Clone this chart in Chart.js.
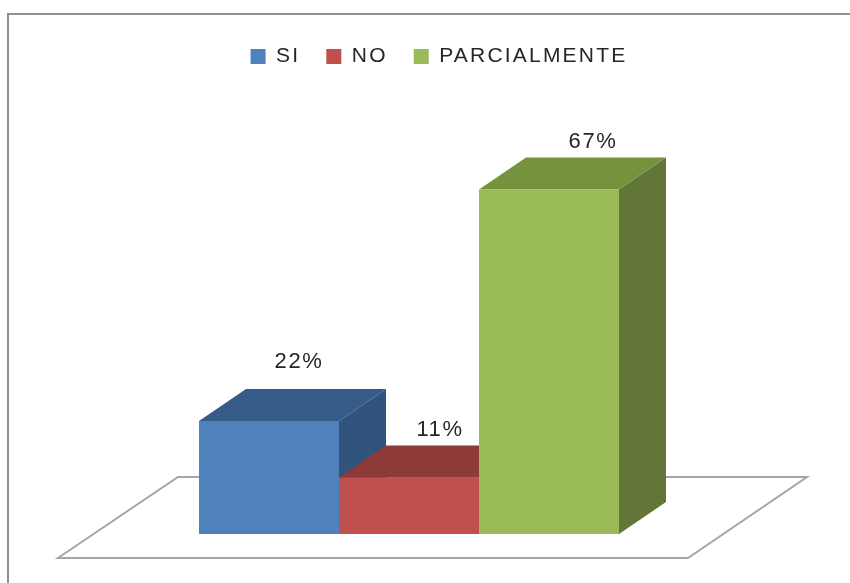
<!DOCTYPE html>
<html><head><meta charset="utf-8">
<script src="https://cdn.jsdelivr.net/npm/chart.js@4"></script>
<style>
html,body{margin:0;padding:0;background:#fff;width:850px;height:583px;overflow:hidden}
#frame{position:absolute;left:7px;top:13px;width:843px;height:570px;border-top:2px solid #8f8f8f;border-left:2px solid #8f8f8f;box-sizing:border-box}
#c{position:absolute;left:0;top:0;filter:blur(0.5px)}
</style></head><body>
<div id="frame"></div>
<canvas id="c" width="850" height="583"></canvas>
<script>
const categories = ['Respuesta'];
const seriesNames = ['SI', 'NO', 'PARCIALMENTE'];
const valuesSI = [22];
const valuesNO = [11];
const valuesPARCIALMENTE = [67];
const frontColors = ['#4F81BD', '#C0504D', '#9BBB59'];
const topColors = ['#365B88', '#8E3A38', '#76923C'];
const sideColors = ['#31547C', '#7A3230', '#62763A'];
const depth = { x: 47, y: 32 };
const labelShift = [[30, -59], [31, -48], [44, -48]];
const fontFamily = '"Liberation Sans", sans-serif';

const depthPlugin = {
  id: 'depth3d',
  beforeUpdate(chart) { chart.ctx.letterSpacing = '2.2px'; },
  beforeDatasetsDraw(chart) {
    const ctx = chart.ctx, base = chart.scales.y.getPixelForValue(0);
    ctx.save();
    ctx.strokeStyle = '#a3a5a8'; ctx.lineWidth = 2; ctx.fillStyle = '#fff';
    ctx.beginPath();
    ctx.moveTo(58, base + 24); ctx.lineTo(178, base - 57);
    ctx.lineTo(807, base - 57); ctx.lineTo(688, base + 24); ctx.closePath();
    ctx.fill(); ctx.stroke();
    chart.data.datasets.forEach((ds, i) => {
      const b = chart.getDatasetMeta(i).data[0];
      const l = b.x - b.width / 2, r = b.x + b.width / 2, t = b.y;
      ctx.fillStyle = sideColors[i];
      ctx.beginPath();
      ctx.moveTo(r, t); ctx.lineTo(r + depth.x, t - depth.y);
      ctx.lineTo(r + depth.x, base - depth.y); ctx.lineTo(r, base); ctx.closePath(); ctx.fill();
      ctx.fillStyle = topColors[i];
      ctx.beginPath();
      ctx.moveTo(l, t); ctx.lineTo(l + depth.x, t - depth.y);
      ctx.lineTo(r + depth.x, t - depth.y); ctx.lineTo(r, t); ctx.closePath(); ctx.fill();
    });
    ctx.restore();
  },
  afterDatasetsDraw(chart) {
    const ctx = chart.ctx;
    ctx.save();
    ctx.letterSpacing = '1.6px';
    ctx.font = '22px ' + fontFamily; ctx.fillStyle = '#262626';
    ctx.textAlign = 'center'; ctx.textBaseline = 'middle';
    chart.data.datasets.forEach((ds, i) => {
      const b = chart.getDatasetMeta(i).data[0];
      ctx.fillText(ds.data[0] + '%', b.x + labelShift[i][0], b.y + labelShift[i][1]);
    });
    ctx.restore();
  },
  afterLayout(chart) {
    chart.legend.left += 30; chart.legend.right += 30;
  }
};

new Chart(document.getElementById('c'), {
  type: 'bar',
  data: {
    labels: categories,
    datasets: [valuesSI, valuesNO, valuesPARCIALMENTE].map((d, i) => ({
      label: seriesNames[i], data: d, backgroundColor: frontColors[i], borderWidth: 0
    }))
  },
  options: {
    responsive: false, animation: false,
    layout: { padding: { left: 99, right: 131, top: 20, bottom: 49 } },
    scales: {
      x: { display: false, grid: { display: false } },
      y: { display: false, min: 0, max: 88.9, grid: { display: false } }
    },
    datasets: { bar: { barPercentage: 1, categoryPercentage: 420 / 620 } },
    plugins: {
      tooltip: { enabled: false },
      legend: {
        position: 'top',
        labels: { boxWidth: 15, boxHeight: 15, padding: 26, color: '#262626',
                  font: { family: fontFamily, size: 21 } }
      }
    }
  },
  plugins: [depthPlugin]
});
</script>
</body></html>
